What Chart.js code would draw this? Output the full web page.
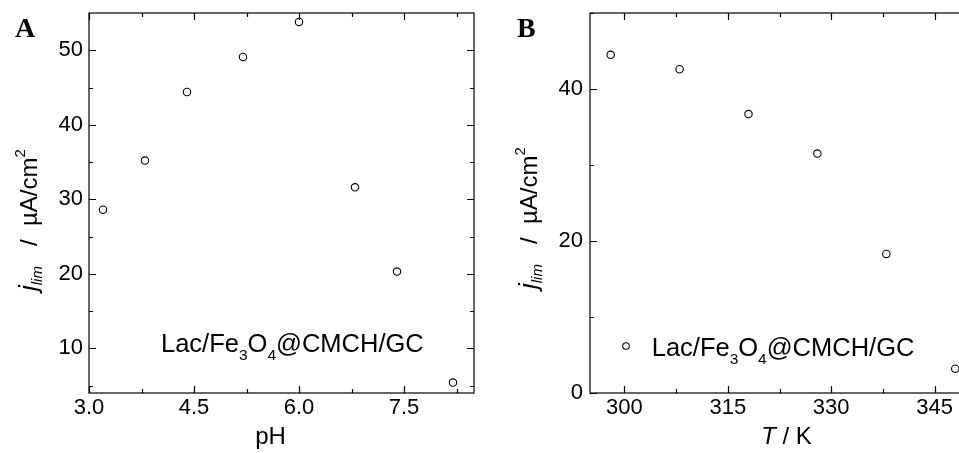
<!DOCTYPE html>
<html>
<head>
<meta charset="utf-8">
<script src="https://cdn.jsdelivr.net/npm/chart.js@4.4.1/dist/chart.umd.min.js"></script>
<style>
html,body{margin:0;padding:0;background:#fff;overflow:hidden;width:959px;height:453px}
#wrapA{position:absolute;left:0;top:0;width:480px;height:453px}
#wrapB{position:absolute;left:480px;top:0;width:500px;height:453px}
</style>
</head>
<body>
<div id="wrapA"><canvas id="chartA"></canvas></div>
<div id="wrapB"><canvas id="chartB"></canvas></div>
<script>
// panel A: j_lim vs pH
const phValues = [3.2, 3.8, 4.4, 5.2, 6.0, 6.8, 7.4, 8.2];
const jlimPh   = [28.6, 35.2, 44.4, 49.1, 53.8, 31.6, 20.3, 5.4];
const phTicks  = [3.0, 4.5, 6.0, 7.5];
const phMinor  = [3.75, 5.25, 6.75, 8.25];
const jTicksA  = [10, 20, 30, 40, 50];
const jMinorA  = [5, 15, 25, 35, 45];

// panel B: j_lim vs T
const tempValues = [298, 308, 318, 328, 338, 348];
const jlimT      = [44.5, 42.6, 36.7, 31.5, 18.3, 3.2];
const tTicks     = [300, 315, 330, 345];
const tMinor     = [307.5, 322.5, 337.5];
const jTicksB    = [0, 20, 40];
const jMinorB    = [10, 30, 50];

const SANS = '"Liberation Sans", Arial, sans-serif';
const SERIF = '"Liberation Serif", "Times New Roman", serif';

// draws a row of text pieces (for sub/superscripts)
function drawRuns(ctx, runs, x, y){
  let cx = x;
  runs.forEach(r=>{
    ctx.font = r.font;
    ctx.fillText(r.text, cx, y + (r.dy||0));
    cx += ctx.measureText(r.text).width;
  });
  return cx - x;
}

function yTitleRuns(){
  return [
    {text:'j', font:'italic 26px '+SANS},
    {text:'lim', font:'italic 15px '+SANS, dy:5},
    {text:'   /  \u00b5A/cm', font:'24px '+SANS},
    {text:'2', font:'15px '+SANS, dy:-12}
  ];
}
function legendRuns(){
  return [
    {text:'Lac/Fe', font:'25.5px '+SANS},
    {text:'3', font:'15.5px '+SANS, dy:8},
    {text:'O', font:'25.5px '+SANS},
    {text:'4', font:'15.5px '+SANS, dy:8},
    {text:'@CMCH/GC', font:'25.5px '+SANS}
  ];
}

// box with inward ticks on all four sides
const framePlugin = {
  id:'frame',
  afterDraw(chart, args, opts){
    const {ctx, chartArea:a, scales:{x, y}} = chart;
    ctx.save();
    ctx.strokeStyle = '#000';
    ctx.lineWidth = 1.2;
    ctx.strokeRect(a.left, a.top, a.right - a.left, a.bottom - a.top);
    ctx.beginPath();
    const xt = (vals, len)=>vals.forEach(v=>{
      const px = Math.round(x.getPixelForValue(v)) + 0.5;
      if(px < a.left || px > a.right) return;
      ctx.moveTo(px, a.bottom); ctx.lineTo(px, a.bottom - len);
      ctx.moveTo(px, a.top); ctx.lineTo(px, a.top + len);
    });
    const yt = (vals, len)=>vals.forEach(v=>{
      const py = Math.round(y.getPixelForValue(v)) + 0.5;
      if(py < a.top - 1 || py > a.bottom + 1) return;
      ctx.moveTo(a.left, py); ctx.lineTo(a.left + len, py);
      ctx.moveTo(a.right, py); ctx.lineTo(a.right - len, py);
    });
    xt(x.ticks.map(t=>t.value), 7);
    xt(opts.minorX || [], 4);
    yt(y.ticks.map(t=>t.value), 7);
    yt(opts.minorY || [], 4);
    ctx.stroke();
    ctx.restore();
  }
};

function makeChart(id, xs, ys, cfg){
  return new Chart(document.getElementById(id), {
    type:'scatter',
    data:{datasets:[{
      data: xs.map((v,i)=>({x:v, y:ys[i]})),
      pointStyle:'circle', pointRadius:3.7, pointHoverRadius:3.7,
      borderColor:'#000', backgroundColor:'#fff', pointBorderWidth:1.1
    }]},
    options:{
      responsive:true, maintainAspectRatio:false, animation:false,
      layout:{padding:{top:13, right:cfg.padRight, left:0, bottom:0}},
      plugins:{legend:{display:false}, tooltip:{enabled:false},
        frame:{minorX:cfg.minorX, minorY:cfg.minorY}},
      scales:{
        x:{type:'linear', min:cfg.xMin, max:cfg.xMax,
          grid:{display:false, drawTicks:false}, border:{display:false},
          ticks:{color:'#000', font:{family:SANS, size:22}, padding:2, maxRotation:0,
            callback:cfg.xFmt},
          afterBuildTicks:s=>{ s.ticks = cfg.xTicks.map(v=>({value:v})); },
          afterFit:s=>{ s.height = 60; s.paddingLeft = 0; s.paddingRight = 0; }},
        y:{type:'linear', min:cfg.yMin, max:cfg.yMax,
          grid:{display:false, drawTicks:false}, border:{display:false},
          ticks:{color:'#000', font:{family:SANS, size:22}, padding:cfg.yPad},
          afterBuildTicks:s=>{ s.ticks = cfg.yTicks.map(v=>({value:v})); },
          afterFit:s=>{ s.width = cfg.yWidth; s.paddingTop = 0; s.paddingBottom = 0; }}
      }
    },
    plugins:[framePlugin, {id:'texts', afterDraw:cfg.texts}]
  });
}

makeChart('chartA', phValues, jlimPh, {
  xMin:3.0, xMax:8.5, yMin:4, yMax:55, padRight:6, yWidth:89, yPad:6,
  xTicks:phTicks, yTicks:jTicksA, minorX:phMinor, minorY:jMinorA,
  xFmt:v=>Number(v).toFixed(1),
  texts(chart){
    const ctx = chart.ctx;
    ctx.save();
    ctx.fillStyle = '#000';
    ctx.textBaseline = 'alphabetic';
    ctx.font = 'bold 28px '+SERIF;
    ctx.fillText('A', 15, 37);
    ctx.font = '24px '+SANS;
    ctx.textAlign = 'center';
    ctx.fillText('pH', 270.5, 444);
    ctx.textAlign = 'left';
    drawRuns(ctx, legendRuns(), 161, 352);
    ctx.translate(37, 291);
    ctx.rotate(-Math.PI/2);
    drawRuns(ctx, yTitleRuns(), 0, 0);
    ctx.restore();
  }
});

makeChart('chartB', tempValues, jlimT, {
  xMin:295, xMax:350, yMin:0, yMax:50, padRight:11, yWidth:110, yPad:7,
  xTicks:tTicks, yTicks:jTicksB, minorX:tMinor, minorY:jMinorB,
  xFmt:v=>String(v),
  texts(chart){
    const ctx = chart.ctx;
    ctx.save();
    ctx.fillStyle = '#000';
    ctx.textBaseline = 'alphabetic';
    ctx.font = 'bold 28px '+SERIF;
    ctx.fillText('B', 37, 37);
    // x title "T / K"
    const runs = [{text:'T', font:'italic 24px '+SANS}, {text:' / K', font:'24px '+SANS}];
    let w = 0;
    runs.forEach(r=>{ ctx.font = r.font; w += ctx.measureText(r.text).width; });
    drawRuns(ctx, runs, 306.5 - w/2, 444);
    // legend
    ctx.beginPath();
    ctx.arc(146, 346, 3.3, 0, Math.PI*2);
    ctx.strokeStyle = '#000'; ctx.lineWidth = 1.1; ctx.stroke();
    drawRuns(ctx, legendRuns(), 171.7, 355.5);
    ctx.translate(57, 289);
    ctx.rotate(-Math.PI/2);
    drawRuns(ctx, yTitleRuns(), 0, 0);
    ctx.restore();
  }
});
</script>
</body>
</html>
